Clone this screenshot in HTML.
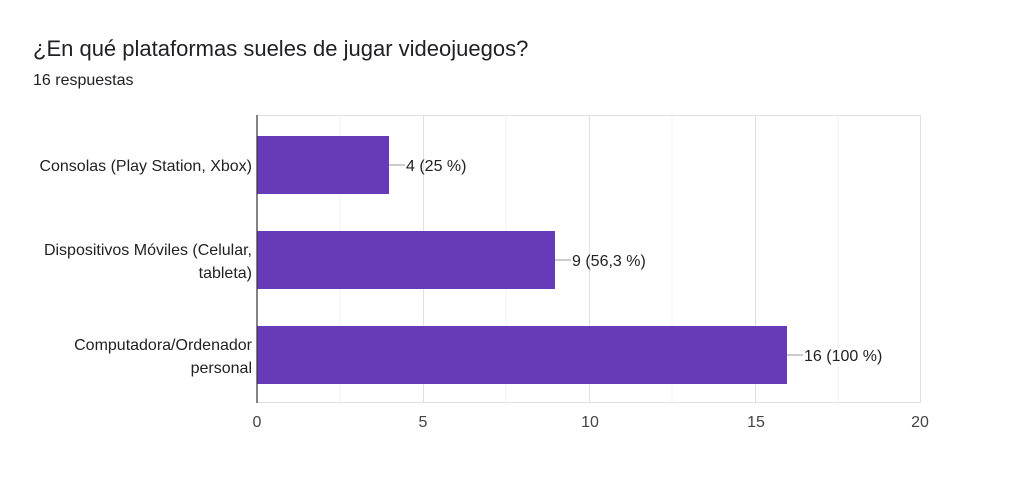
<!DOCTYPE html>
<html><head><meta charset="utf-8"><style>
body{margin:0;background:#fff;width:1024px;height:487px;overflow:hidden;font-family:"Liberation Sans",Roboto,sans-serif}
</style></head><body>
<svg width="1024" height="487" xmlns="http://www.w3.org/2000/svg" font-family="Liberation Sans, sans-serif">
<rect width="1024" height="487" fill="#fff"/>
<text x="33" y="56" font-size="22" fill="#202124">¿En qué plataformas sueles de jugar videojuegos?</text>
<text x="33" y="85" font-size="16" fill="#202124">16 respuestas</text>
<g stroke="#f1f1f1" stroke-width="1">
<line x1="340" y1="115" x2="340" y2="403"/><line x1="506" y1="115" x2="506" y2="403"/>
<line x1="672" y1="115" x2="672" y2="403"/><line x1="838" y1="115" x2="838" y2="403"/>
</g>
<g stroke="#e0e0e0" stroke-width="1">
<line x1="423.5" y1="115" x2="423.5" y2="403"/><line x1="589.5" y1="115" x2="589.5" y2="403"/>
<line x1="755.5" y1="115" x2="755.5" y2="403"/><line x1="920.5" y1="115" x2="920.5" y2="403"/>
<line x1="257" y1="115.5" x2="920" y2="115.5"/><line x1="257" y1="402.5" x2="920" y2="402.5"/>
</g>
<rect x="257" y="136" width="132" height="58" fill="#673ab7"/>
<rect x="257" y="231" width="298" height="58" fill="#673ab7"/>
<rect x="257" y="326" width="530" height="58" fill="#673ab7"/>
<line x1="257" y1="115" x2="257" y2="403" stroke="#333" stroke-width="1.2"/>
<g stroke="#999" stroke-width="1">
<line x1="389" y1="165" x2="405" y2="165"/><line x1="555" y1="260" x2="571" y2="260"/><line x1="787" y1="355" x2="803" y2="355"/>
</g>
<g font-size="16" fill="#222">
<text x="406" y="171">4 (25 %)</text>
<text x="572" y="266">9 (56,3 %)</text>
<text x="804" y="361">16 (100 %)</text>
</g>
<g font-size="16" fill="#222" text-anchor="end">
<text x="252" y="171">Consolas (Play Station, Xbox)</text>
<text x="252" y="255">Dispositivos Móviles (Celular,</text>
<text x="252" y="278">tableta)</text>
<text x="252" y="350">Computadora/Ordenador</text>
<text x="252" y="373">personal</text>
</g>
<g font-size="16" fill="#444" text-anchor="middle">
<text x="257" y="427">0</text><text x="423" y="427">5</text><text x="590" y="427">10</text>
<text x="756" y="427">15</text><text x="920" y="427">20</text>
</g>
</svg>
</body></html>
